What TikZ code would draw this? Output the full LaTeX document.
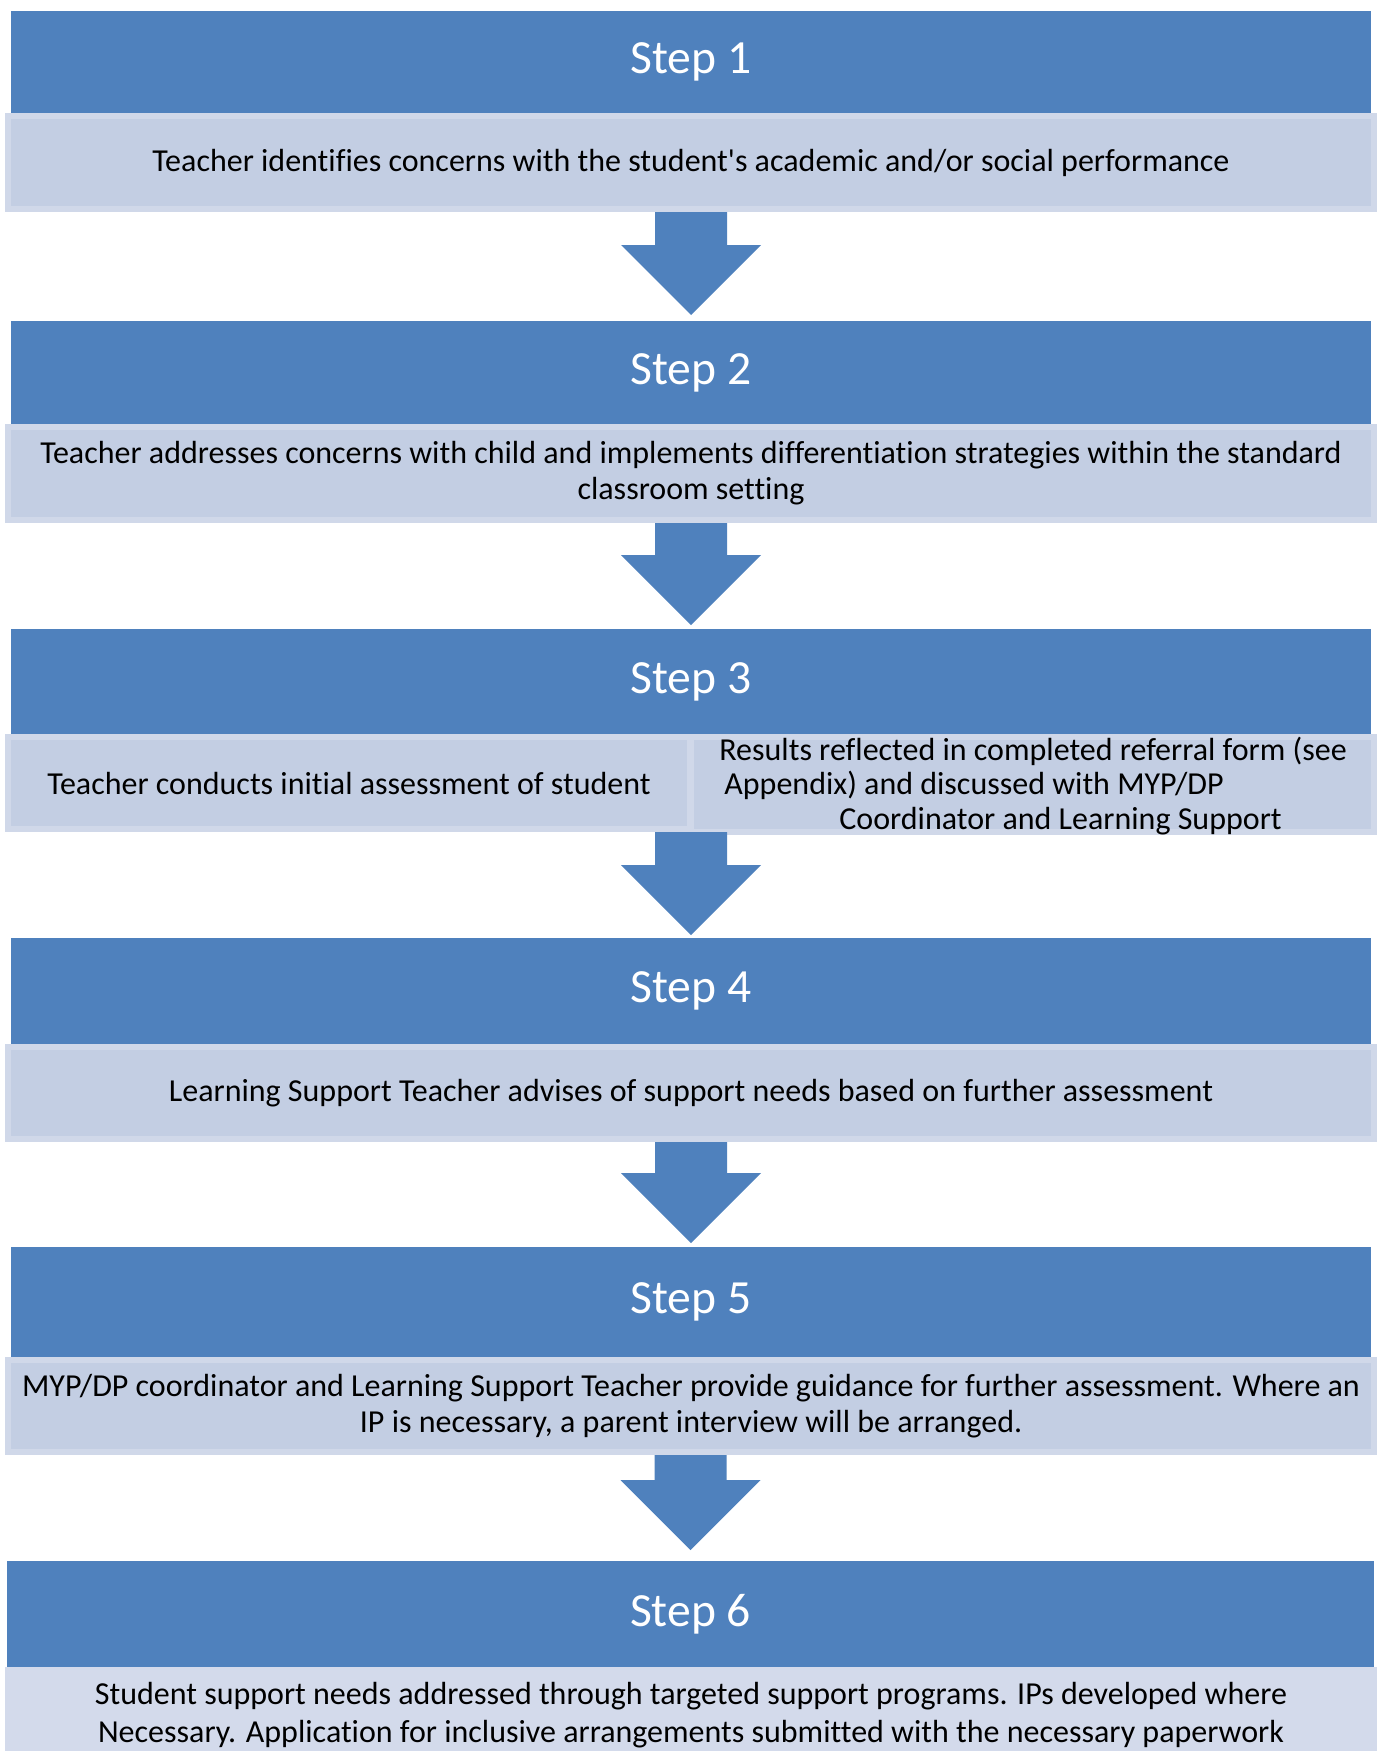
\documentclass[tikz,border=0pt]{standalone}
\usepackage{fontspec}
\setmainfont{Carlito}[Ligatures={NoCommon}]
\usetikzlibrary{calc}
\definecolor{stepblue}{RGB}{79,129,189}
\definecolor{lightfill}{RGB}{195,206,227}
\definecolor{lightedge}{RGB}{208,216,233}
\definecolor{lastfill}{RGB}{211,218,235}
\tikzset{
  darkbox/.style={fill=stepblue, inner sep=0pt, outer sep=0pt, anchor=north west, text=white,
    font=\fontsize{23.8}{28}\selectfont},
  lightbox/.style={fill=lightfill, draw=lightedge, line width=3pt, inner sep=0pt,
    anchor=north west, align=center, font=\fontsize{16}{18}\selectfont},
  linetext/.style={inner sep=0pt, anchor=base west, font=\fontsize{16}{17}\selectfont},
}
% block arrow from light box #1 down to dark box #2, tip gap #3
\newcommand\blockarrow[3]{%
  \fill[stepblue] let \p1=(#1.south), \p2=(#2.north) in
    (\x2-18pt,\y1) -- (\x2+18pt,\y1) -- (\x2+18pt,\y2+#3+35pt)
    -- (\x2+35pt,\y2+#3+35pt) -- (\x2,\y2+#3) -- (\x2-35pt,\y2+#3+35pt)
    -- (\x2-18pt,\y2+#3+35pt) -- cycle;}
\begin{document}
\begin{tikzpicture}[x=0.5pt,y=-0.5pt]
\useasboundingbox (0,0) rectangle (1379,1751);
\clip (0,0) rectangle (1379,1751);

% Step 1
\node[darkbox, minimum width=680pt, minimum height=51pt] (D1) at (11,11) {Step 1};
\node[lightbox, minimum width=683pt, minimum height=46.5pt] (L1) at (5,113)
  {Teacher identifies concerns with the student\textquotesingle s academic and/or social performance};

% Step 2
\node[darkbox, minimum width=680pt, minimum height=51.5pt] (D2) at (11,321) {Step 2};
\node[lightbox, minimum width=683pt, minimum height=46.5pt] (L2) at (5,424)
  {Teacher addresses concerns with child and implements differentiation strategies within the standard\\classroom setting};

% Step 3
\node[darkbox, minimum width=680pt, minimum height=52.5pt] (D3) at (11,629) {Step 3};
\node[lightbox, minimum width=341.5pt, minimum height=47.5pt] (L3b) at (688,734) {};
\node[lightbox, minimum width=341pt, minimum height=46pt] (L3a) at (5,734)
  {Teacher conducts initial assessment of student};
\begin{scope}
  \clip (694,734) rectangle (1377,835);
  \node[linetext] (T3a) at (719,760) {Results reflected in completed referral form (see};
  \node[linetext] (T3b) at (724,794) {Appendix) and discussed with MYP/DP};
  \node[linetext] (T3c) at (839,829) {Coordinator and Learning Support};
\end{scope}

% Step 4
\node[darkbox, minimum width=680pt, minimum height=53pt] (D4) at (11,938) {Step 4};
\node[lightbox, minimum width=683pt, minimum height=46pt] (L4) at (5,1044)
  {Learning Support Teacher advises of support needs based on further assessment};

% Step 5
\node[darkbox, minimum width=680pt, minimum height=55pt] (D5) at (11,1247) {Step 5};
\node[lightbox, minimum width=683pt, minimum height=46pt] (L5) at (5,1357)
  {MYP/DP coordinator and Learning Support Teacher provide guidance for further assessment. Where an\\IP is necessary, a parent interview will be arranged.};

% Step 6
\node[darkbox, minimum width=683.5pt, minimum height=53pt] (D6) at (7,1561) {Step 6};
\node[lightbox, fill=lastfill, draw=lastfill, minimum width=683pt, minimum height=45pt,
  font=\fontsize{16}{19}\selectfont] (L6) at (5,1667)
  {Student support needs addressed through targeted support programs. IPs developed where\\Necessary. Application for inclusive arrangements submitted with the necessary paperwork};

% arrows
\blockarrow{L1}{D2}{3pt}
\blockarrow{L2}{D3}{2pt}
\blockarrow{L3a}{D4}{1.5pt}
\blockarrow{L4}{D5}{2pt}
\blockarrow{L5}{D6}{5.5pt}
\end{tikzpicture}
\end{document}
